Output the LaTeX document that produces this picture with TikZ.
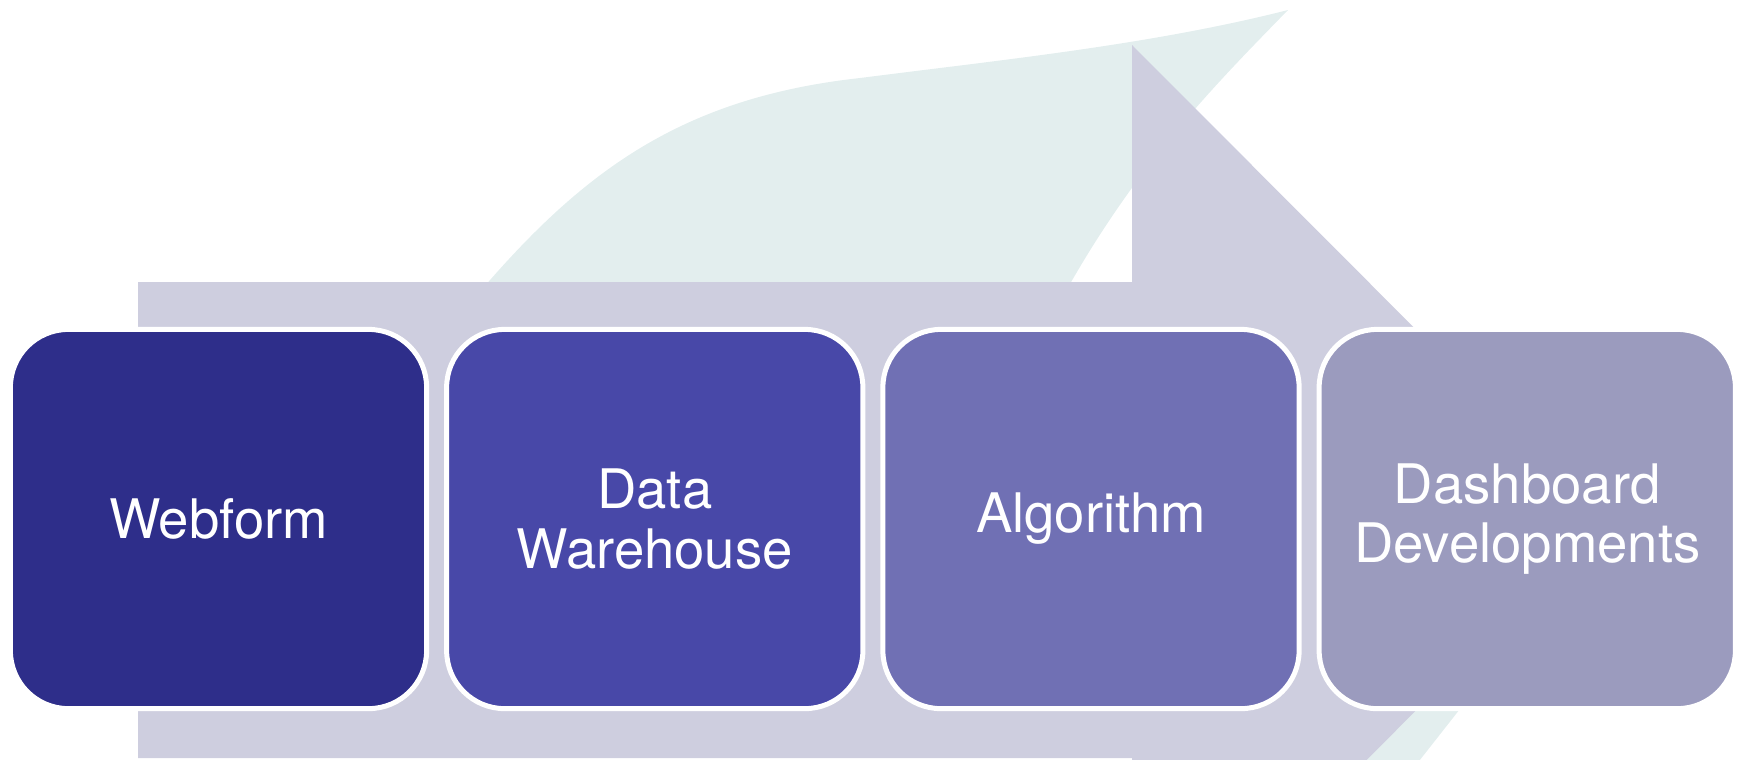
\documentclass[tikz,border=0pt]{standalone}
\usepackage{fontspec}
\setmainfont{TeX Gyre Heros}
\usetikzlibrary{positioning}
\definecolor{stepone}{RGB}{46,46,138}
\definecolor{steptwo}{RGB}{72,72,168}
\definecolor{stepthree}{RGB}{112,112,180}
\definecolor{stepfour}{RGB}{155,155,190}
\definecolor{arrowlav}{RGB}{206,206,223}
\definecolor{swooshteal}{RGB}{227,238,238}

\begin{document}
\begin{tikzpicture}[x=0.01cm,y=-0.01cm,
  stage/.style={draw=white,line width=0.05cm,rounded corners=0.58cm,
    minimum width=4.16cm,minimum height=3.79cm,text width=4cm,
    align=center,inner sep=0pt,text=white,
    font=\fontsize{15.5}{17}\selectfont}]
% Frame (pixel units, y pointing down)
\useasboundingbox (0,0) rectangle (1737,759);
\clip (0,0) rectangle (1737,759);

% Background swoosh
\fill[swooshteal] (440,340) .. controls (560,190) and (660,100) .. (860,78)
    .. controls (1000,60) and (1150,45) .. (1288,10)
    .. controls (1210,90) and (1120,180) .. (1040,340) -- cycle;
\fill[swooshteal] (1400,700) -- (1467,700) -- (1412,770) -- (1360,770) -- cycle;

% Big arrow behind the stages
\fill[arrowlav] (138,282) -- (1132,282) -- (1132,45) -- (1606,520)
    -- (1132,995) -- (1132,758) -- (138,758) -- cycle;

% Stages
\node[stage,fill=stepone] (webform) at (218.5,519) {Webform};
\node[stage,fill=steptwo,right=0.15cm of webform] (warehouse) {Data\\Warehouse};
\node[stage,fill=stepthree,right=0.15cm of warehouse] (algorithm) {Algorithm};
\node[stage,fill=stepfour,right=0.15cm of algorithm] (dashboard) {Dashboard\\Developments};

\end{tikzpicture}
\end{document}
